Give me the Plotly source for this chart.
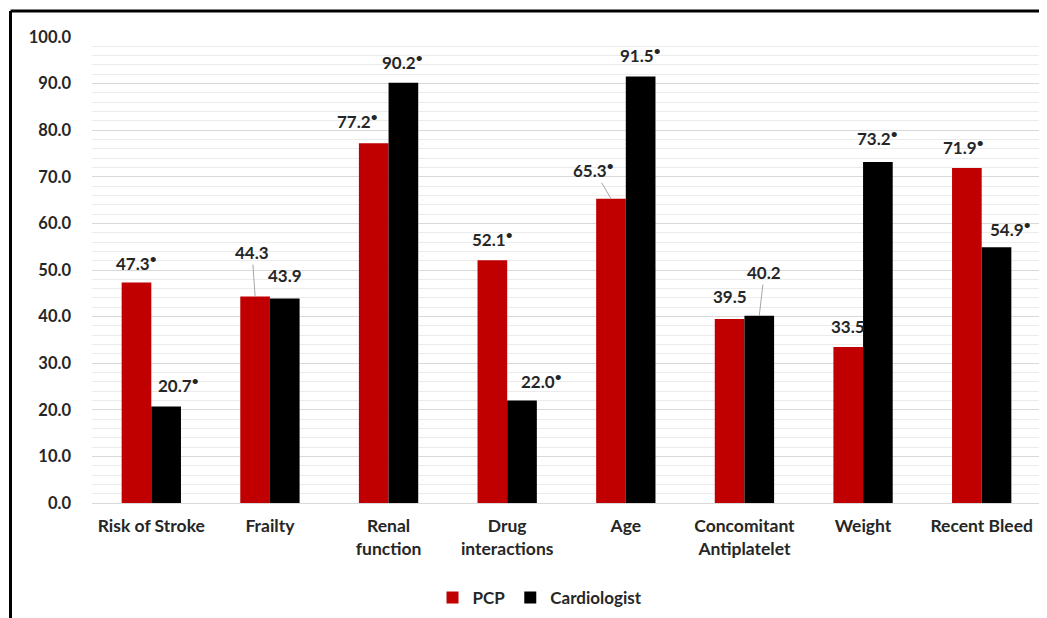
import plotly.graph_objects as go

categories = ["Risk of Stroke", "Frailty", "Renal<br>function", "Drug<br>interactions",
              "Age", "Concomitant<br>Antiplatelet", "Weight", "Recent Bleed"]
pcp = [47.3, 44.3, 77.2, 52.1, 65.3, 39.5, 33.5, 71.9]
cardiologist = [20.7, 43.9, 90.2, 22.0, 91.5, 40.2, 73.2, 54.9]
pcp_sig = [True, False, True, True, True, False, False, True]
card_sig = [True, False, True, True, True, False, True, True]
y_ticks = [0, 10, 20, 30, 40, 50, 60, 70, 80, 90, 100]

# label offsets (pixels) from bar top, and whether a leader line is drawn
pcp_off = [(0, -20), (-3, -44), (-16, -23), (0, -22), (-17, -29), (0, -22), (0, -20), (-3, -21)]
pcp_lead = [False, True, False, False, True, False, False, False]
card_off = [(12, -22), (0, -23), (-1, -21), (19, -20), (0, -22), (5, -43), (0, -24), (14, -19)]
card_lead = [False, False, False, False, False, True, False, False]

FONT = "Lato"
TXT = "#262626"
OFF = 8  # page body margin
W, H = 1047 - OFF, 618 - OFF
ML, MR, MT, MB = 92 - OFF, 6, 37 - OFF, 115

fig = go.Figure()
fig.add_trace(go.Bar(x=categories, y=pcp, name="PCP", marker_color="#C00000",
                     marker_line_width=0))
fig.add_trace(go.Bar(x=categories, y=cardiologist, name="Cardiologist",
                     marker_color="#000000", marker_line_width=0))

def lab(v, sig):
    s = f"{v:.1f}"
    return s + "<sup>•</sup>" if sig else s

annotations = []
for i in range(len(categories)):
    for vals, sigs, offs, leads, dx in ((pcp, pcp_sig, pcp_off, pcp_lead, -0.125),
                                        (cardiologist, card_sig, card_off, card_lead, 0.125)):
        ax, ay = offs[i]
        annotations.append(dict(
            x=i + dx, y=vals[i], xref="x", yref="y",
            text=lab(vals[i], sigs[i]), showarrow=True, arrowhead=0,
            arrowwidth=1, arrowcolor="#A6A6A6" if leads[i] else "rgba(0,0,0,0)",
            ax=ax, ay=ay, standoff=0,
            font=dict(family=FONT, size=17, color=TXT, weight="bold"),
        ))

pw = W - ML - MR
ph = H - MT - MB
# convert page pixel positions to paper coordinates
def px_x(p):
    return (p - OFF - ML) / pw
def px_y(p):
    return (H - MB - (p - OFF)) / ph

shapes = [
    dict(type="line", xref="paper", yref="paper", x0=px_x(10.5), x1=px_x(1047),
         y0=px_y(11), y1=px_y(11), line=dict(color="black", width=3)),
    dict(type="line", xref="paper", yref="paper", x0=px_x(10.5), x1=px_x(10.5),
         y0=px_y(11), y1=px_y(618), line=dict(color="black", width=3)),
]

fig.update_layout(
    width=W, height=H,
    margin=dict(l=ML, r=MR, t=MT, b=MB, autoexpand=False),
    paper_bgcolor="white", plot_bgcolor="white",
    barmode="group", bargap=0.5, bargroupgap=0,
    font=dict(family=FONT, size=15, color=TXT),
    showlegend=True,
    legend=dict(orientation="h", xref="container", yref="container",
                x=(540 - OFF) / W, xanchor="center", y=1 - (598 - OFF) / H, yanchor="middle",
                font=dict(family=FONT, size=17, color=TXT, weight="bold"),
                itemwidth=30, traceorder="normal"),
    annotations=annotations,
    shapes=shapes,
)
fig.update_xaxes(showgrid=False, showline=True, linecolor="#D9D9D9", linewidth=1,
                 ticks="", automargin=False, ticklabelstandoff=7,
                 tickfont=dict(family=FONT, size=17.5, color=TXT, weight="bold"))
fig.update_yaxes(range=[0, 100], tickvals=y_ticks, ticktext=[f"{t:.1f}" for t in y_ticks],
                 showgrid=True, gridcolor="#D9D9D9", gridwidth=1, zeroline=False,
                 showline=False, ticks="", ticklabelstandoff=20, automargin=False,
                 minor=dict(dtick=2, showgrid=True, gridcolor="#EBEBEB", gridwidth=1),
                 tickfont=dict(family=FONT, size=16.5, color=TXT, weight="bold"))

fig.write_html("out.html")
